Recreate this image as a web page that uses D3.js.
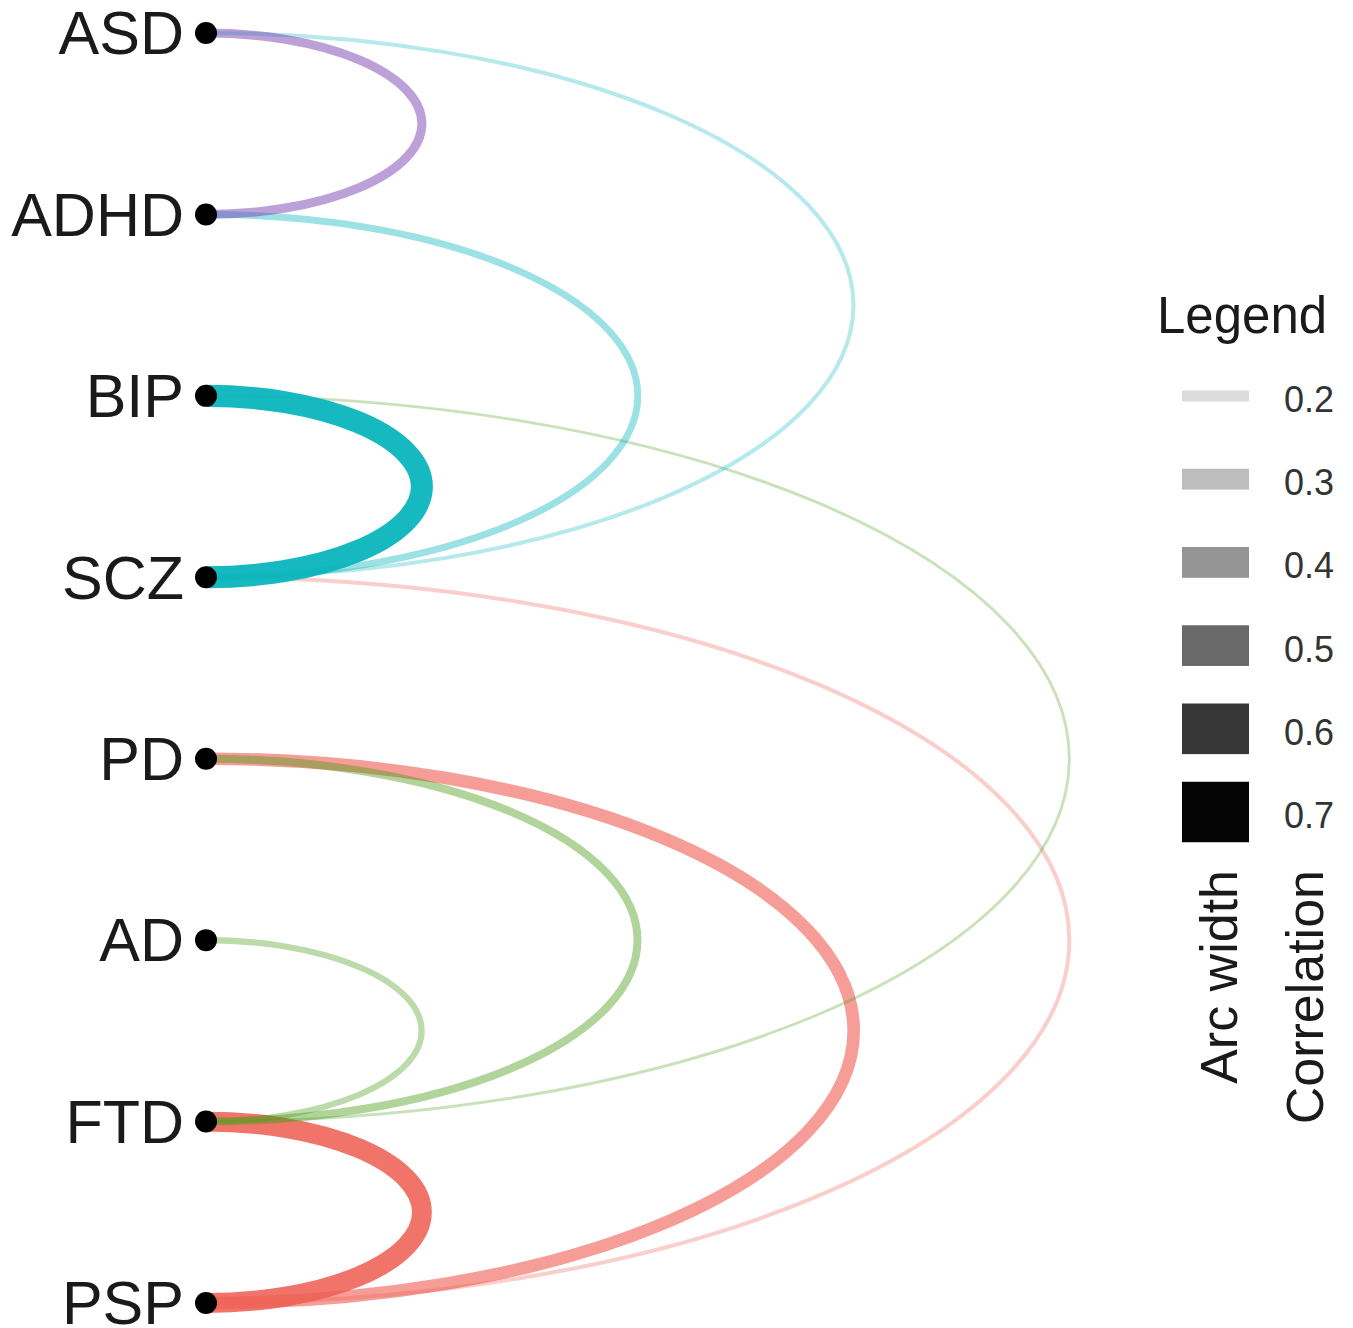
<!DOCTYPE html>
<html>
<head>
<meta charset="utf-8">
<script src="https://cdn.jsdelivr.net/npm/d3@7"></script>
<style>
  html, body { margin: 0; padding: 0; background: #fff; }
  svg { display: block; font-family: "Liberation Sans", Arial, sans-serif; }
</style>
</head>
<body>
<svg id="chart" width="1353" height="1328"></svg>
<script>
// ---- data ----
const nodes = ["ASD", "ADHD", "BIP", "SCZ", "PD", "AD", "FTD", "PSP"];

const edgeSource = ["PD",  "FTD", "SCZ", "PD",  "AD",  "BIP", "BIP", "ADHD", "ASD", "ASD"];
const edgeTarget = ["PSP", "PSP", "PSP", "FTD", "FTD", "FTD", "SCZ", "SCZ",  "SCZ", "ADHD"];
const edgeCorr   = [0.44,  0.64,  0.20,  0.31,  0.26,  0.17,  0.70,  0.28,   0.20,  0.34];
const edgeGroup  = ["red", "red", "red", "green","green","green","cyan","cyan","cyan","purple"];

const legendValues = [0.2, 0.3, 0.4, 0.5, 0.6, 0.7];
const legendTitle = "Legend";
const legendCaption = ["Arc width", "Correlation"];

// ---- styles ----
const groupColor = { red: "#EE5F53", green: "#509E1E", cyan: "#0AB5BC", purple: "#753CB0" };
const groupOrder = ["red", "green", "cyan", "purple"];

const svg = d3.select("#chart");

const y = d3.scalePoint().domain(nodes).range([33, 1303]);
const nodeX = 206;
const aspect = 2.38;

const widthScale = d3.scaleLinear().domain([0.2, 0.7]).range([4, 22]);
const alphaScale = d3.scaleLinear().domain([0.2, 0.7]).range([0.3, 0.95]).clamp(true);

const edges = edgeSource.map((s, i) => ({
  source: s, target: edgeTarget[i], corr: edgeCorr[i], group: edgeGroup[i]
}));
edges.sort((a, b) => {
  const g = groupOrder.indexOf(a.group) - groupOrder.indexOf(b.group);
  return g !== 0 ? g : b.corr - a.corr;
});

function arcPath(d) {
  const y0 = Math.min(y(d.source), y(d.target));
  const y1 = Math.max(y(d.source), y(d.target));
  const ry = (y1 - y0) / 2;
  const rx = ry * aspect;
  return `M${nodeX},${y0} A${rx},${ry} 0 0 1 ${nodeX},${y1}`;
}

svg.append("g").selectAll("path")
  .data(edges)
  .join("path")
  .attr("d", arcPath)
  .attr("fill", "none")
  .attr("stroke", d => groupColor[d.group])
  .attr("stroke-opacity", d => alphaScale(d.corr))
  .attr("stroke-width", d => widthScale(d.corr));

// nodes
const ng = svg.append("g");
ng.selectAll("circle")
  .data(nodes)
  .join("circle")
  .attr("cx", nodeX)
  .attr("cy", d => y(d))
  .attr("r", 11)
  .attr("fill", "#000");

ng.selectAll("text")
  .data(nodes)
  .join("text")
  .attr("x", 184)
  .attr("y", d => y(d))
  .attr("dy", "0.35em")
  .attr("text-anchor", "end")
  .attr("font-size", 61)
  .attr("fill", "#1a1a1a")
  .text(d => d);

// legend
const lg = svg.append("g");
lg.append("text")
  .attr("x", 1157)
  .attr("y", 333)
  .attr("font-size", 51)
  .attr("fill", "#1a1a1a")
  .text(legendTitle);

const ly = d3.scalePoint().domain(legendValues).range([396, 812]);
const legendFill = d3.scaleLinear()
  .domain([0.2, 0.3, 0.4, 0.5, 0.6, 0.7])
  .range(["#dcdcdc", "#bdbdbd", "#959595", "#696969", "#363636", "#050505"]);

lg.selectAll("rect")
  .data(legendValues)
  .join("rect")
  .attr("x", 1182)
  .attr("width", 67)
  .attr("y", d => ly(d) - widthScale(d) * 2.75 / 2)
  .attr("height", d => widthScale(d) * 2.75)
  .attr("fill", d => legendFill(d));

lg.selectAll("text.tick")
  .data(legendValues)
  .join("text")
  .attr("class", "tick")
  .attr("x", 1284)
  .attr("y", d => ly(d) + 3)
  .attr("dy", "0.36em")
  .attr("font-size", 36)
  .attr("fill", "#333")
  .text(d => d3.format(".1f")(d));

const capX = [1237, 1323];
lg.selectAll("text.cap")
  .data(legendCaption)
  .join("text")
  .attr("class", "cap")
  .attr("transform", (d, i) => `translate(${capX[i]},870) rotate(-90)`)
  .attr("text-anchor", "end")
  .attr("font-size", 52)
  .attr("fill", "#1a1a1a")
  .text(d => d);
</script>
</body>
</html>
